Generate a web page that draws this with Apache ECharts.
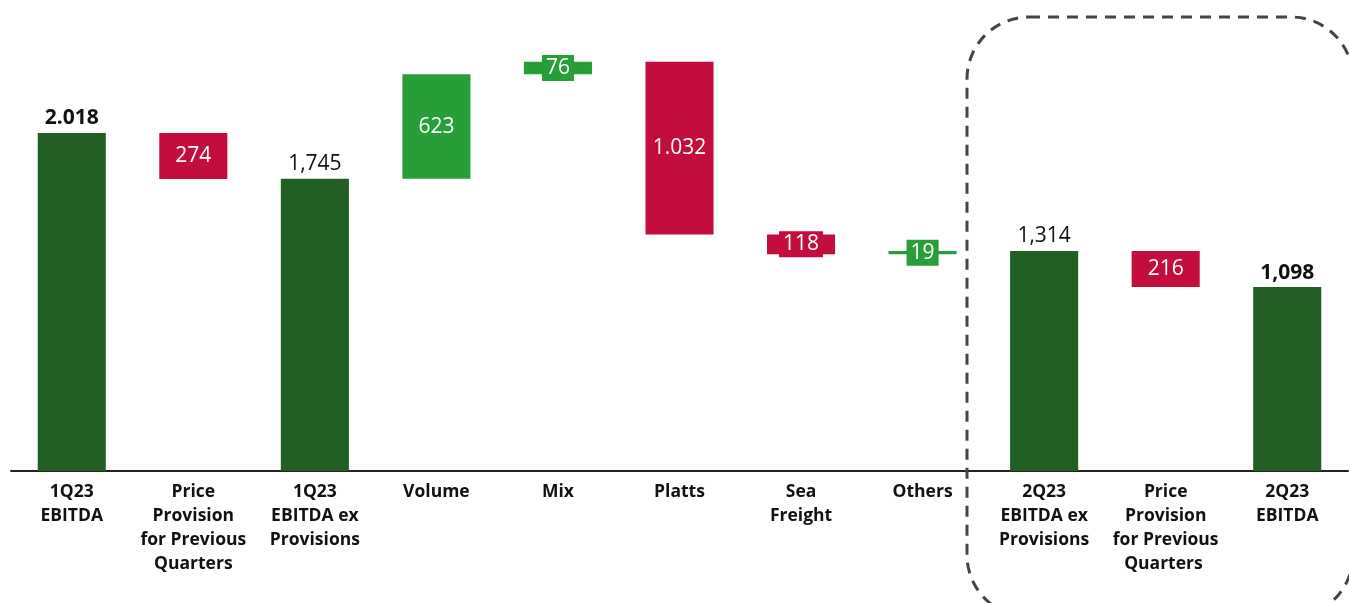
<!DOCTYPE html>
<html><head><meta charset="utf-8">
<script src="https://cdn.jsdelivr.net/npm/echarts@6/dist/echarts.min.js"></script>
<style>html,body{margin:0;padding:0;background:#fff}#c{width:1349px;height:603px}</style>
</head><body><div id="c"></div>
<script>
const categories = ['1Q23\nEBITDA','Price\nProvision\nfor Previous\nQuarters','1Q23\nEBITDA ex\nProvisions','Volume','Mix','Platts','Sea\nFreight','Others','2Q23\nEBITDA ex\nProvisions','Price\nProvision\nfor Previous\nQuarters ','2Q23\nEBITDA'];
const kinds = ['total','down','total','up','up','down','down','up','total','down','total'];
const values = [2018, 274, 1745, 623, 76, 1032, 118, 19, 1314, 216, 1098];
const labels = ['2.018','274','1,745','623','76','1.032','118','19','1,314','216','1,098'];
const boldLabel = [true,false,false,false,false,false,false,false,false,false,true];

const COL = {total:'#225F22', up:'#289E39', down:'#C20D3D'};
const FONT = '"Open Sans", "Noto Sans", sans-serif';

// compute waterfall bases
const bases = [], heights = [];
let run = 0;
for (let i=0;i<values.length;i++){
  const k = kinds[i], v = values[i];
  if (k==='total'){ bases.push(0); heights.push(v); run = v; }
  else if (k==='up'){ bases.push(run); heights.push(v); run += v; }
  else { run -= v; bases.push(run); heights.push(v); }
}

const barData = heights.map((h,i)=>{
  const k = kinds[i];
  const small = k!=='total' && h < 150;
  let label;
  if (k==='total'){
    label = {show:true, position:'top', distance:4, formatter:labels[i], color:'#111', fontSize:21, fontFamily:FONT, fontWeight: boldLabel[i]?'bold':'normal'};
  } else {
    label = {show:true, position:'inside', formatter:labels[i], color:'#fff', fontSize:21, fontFamily:FONT};
    if (small){
      label.backgroundColor = COL[k];
      label.padding = [3,4,2,4];
    }
  }
  return {value:h, itemStyle:{color:COL[k]}, label};
});

const chart = echarts.init(document.getElementById('c'));
chart.setOption({
  animation:false,
  grid:{left:11, right:1, top:35.5, bottom:132},
  xAxis:{type:'category', data:categories,
    axisLine:{lineStyle:{color:'#222', width:2}}, axisTick:{show:false},
    axisLabel:{interval:0, color:'#111', fontSize:17.5, fontWeight:'bold', fontFamily:FONT, lineHeight:24, margin:9}},
  yAxis:{type:'value', min:0, max:2600, show:false, splitLine:{show:false}},
  series:[
    {type:'bar', stack:'w', data:bases, itemStyle:{color:'transparent'}, barWidth:'56%', silent:true},
    {type:'bar', stack:'w', data:barData, barWidth:'56%'}
  ],
  graphic:[{type:'rect', shape:{x:967, y:17, width:386, height:600, r:62},
    style:{fill:'none', stroke:'#444', lineWidth:3, lineDash:[11,8]}, z:10}]
});
</script></body></html>
